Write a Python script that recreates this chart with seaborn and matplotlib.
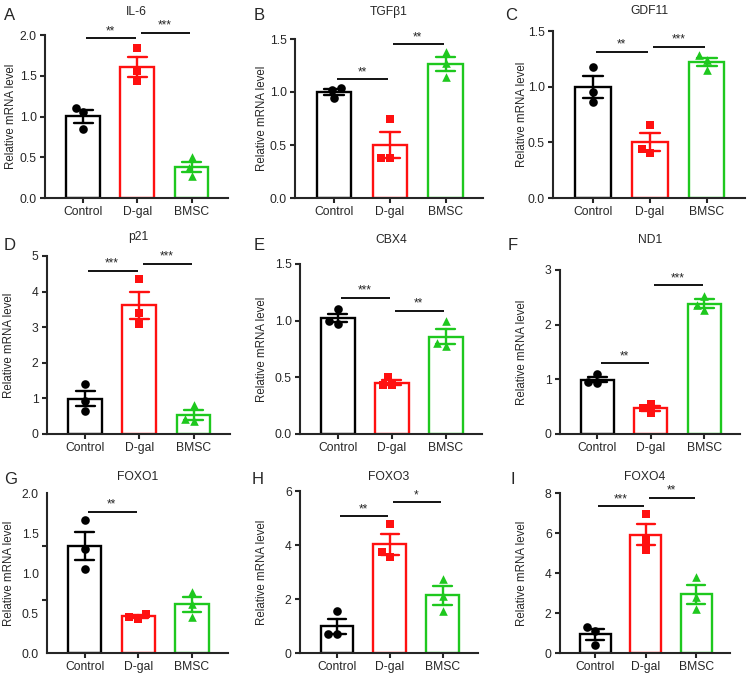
import matplotlib
matplotlib.use("Agg")
import matplotlib.pyplot as plt
import numpy as np
import pandas as pd
import seaborn as sns

# groups and colours
groups = ["Control", "D-gal", "BMSC"]
group_colors = ["#000000", "#ff1010", "#1ec81e"]
group_markers = ["o", "s", "^"]

# values (3 replicates per group)
il6 = [[1.11, 1.05, 0.85], [1.84, 1.56, 1.43], [0.50, 0.37, 0.27]]
tgfb1 = [[1.04, 1.02, 0.94], [0.75, 0.38, 0.38], [1.38, 1.27, 1.14]]
gdf11 = [[1.18, 0.95, 0.86], [0.66, 0.44, 0.40], [1.28, 1.24, 1.15]]
p21 = [[1.40, 0.92, 0.66], [4.35, 3.40, 3.10], [0.82, 0.42, 0.36]]
cbx4 = [[1.10, 1.00, 0.97], [0.50, 0.43, 0.43], [1.00, 0.80, 0.78]]
nd1 = [[1.10, 0.95, 0.94], [0.55, 0.47, 0.38], [2.53, 2.36, 2.27]]
foxo1 = [[1.66, 1.30, 1.05], [0.43, 0.49, 0.45], [0.76, 0.61, 0.45]]
foxo3 = [[1.55, 0.70, 0.72], [4.79, 3.74, 3.56], [2.75, 2.10, 1.55]]
foxo4 = [[1.30, 1.12, 0.40], [6.95, 5.66, 5.15], [3.82, 2.81, 2.18]]

genes = ["IL-6", "TGFβ1", "GDF11", "p21", "CBX4", "ND1", "FOXO1", "FOXO3", "FOXO4"]
letters = ["A", "B", "C", "D", "E", "F", "G", "H", "I"]
values = [il6, tgfb1, gdf11, p21, cbx4, nd1, foxo1, foxo3, foxo4]
ymax = [2.0, 1.5, 1.5, 5, 1.5, 3, 2.0, 6, 8]
ystep = [0.5, 0.5, 0.5, 1, 0.5, 1, 0.5, 2, 2]

# significance brackets: (group i, group j, height, label)
sig = [
    [(0, 1, 1.96, "**"), (1, 2, 2.03, "***")],
    [(0, 1, 1.12, "**"), (1, 2, 1.45, "**")],
    [(0, 1, 1.31, "**"), (1, 2, 1.36, "***")],
    [(0, 1, 4.57, "***"), (1, 2, 4.77, "***")],
    [(0, 1, 1.20, "***"), (1, 2, 1.085, "**")],
    [(0, 1, 1.29, "**"), (1, 2, 2.72, "***")],
    [(0, 1, 1.76, "**")],
    [(0, 1, 5.06, "**"), (1, 2, 5.58, "*")],
    [(0, 1, 7.33, "***"), (1, 2, 7.75, "**")],
]

# axes boxes in pixels: left, right, top, bottom ; ylabel x ; letter x,y ; title y
W, H = 752, 680
boxes = [
    (45, 228, 35, 198), (295, 483, 39, 198), (553, 745, 31, 198),
    (47, 230, 256, 434), (300, 482, 264, 434), (560, 740, 270, 434),
    (47, 228, 493, 653), (300, 478, 491, 653), (560, 730, 493, 653),
]
ylab_x = [11, 262, 522, 9, 262, 522, 9, 262, 522]
letter_xy = [(4, 15), (254, 15), (505, 15), (4, 245), (254, 245), (508, 245),
             (4, 479), (252, 479), (510, 479)]
title_y = [12, 12, 11, 237, 240, 240, 477, 477, 477]

sns.set_style("ticks")
plt.rcParams["font.family"] = ["Liberation Sans", "DejaVu Sans"]

fig = plt.figure(figsize=(W / 100, H / 100), dpi=100)

for k in range(9):
    l, r, t, b = boxes[k]
    ax = fig.add_axes([l / W, 1 - b / H, (r - l) / W, (b - t) / H])
    df = pd.DataFrame({
        "group": np.repeat(groups, 3),
        "value": np.concatenate(values[k]),
    })
    sns.barplot(data=df, x="group", y="value", hue="group", order=groups,
                hue_order=groups, palette=group_colors, fill=False,
                errorbar="se", capsize=0.35, width=0.62, linewidth=1.7,
                err_kws={"linewidth": 1.7}, legend=False, ax=ax)
    # colour error bars like their group
    for ln in ax.lines:
        xm = np.nanmean(np.asarray(ln.get_xdata(), dtype=float))
        if np.isfinite(xm):
            ln.set_color(group_colors[int(round(xm))])
    for g, c, m, vals in zip(groups, group_colors, group_markers, values[k]):
        sns.swarmplot(x=[g] * len(vals), y=vals, order=groups, color=c,
                      marker=m, size=6.2, linewidth=0, ax=ax, zorder=5)

    for i, j, y, lab in sig[k]:
        ax.plot([i + 0.06, j - 0.03], [y, y], color="black", lw=1.3,
                clip_on=False, solid_capstyle="butt")
        ax.text((i + j) / 2, y + ymax[k] * 0.008, lab, ha="center",
                va="bottom", fontsize=8.5)

    ax.set_xlim(-0.7, 2.67)
    ax.set_ylim(0, ymax[k])
    ticks = np.arange(0, ymax[k] + 1e-9, ystep[k])
    ax.set_yticks(ticks)
    if ystep[k] < 1:
        ax.set_yticklabels([f"{v:.1f}" for v in ticks])
    else:
        ax.set_yticklabels([f"{v:.0f}" for v in ticks])
    if k == 6:
        # tick marks in this panel do not line up with the labels
        ax.tick_params(axis="y", which="major", length=0, pad=6)
        ax.set_yticks(np.linspace(0, 2.0, 4), minor=True)
        ax.tick_params(axis="y", which="minor", length=3.5, width=1.5)
    else:
        ax.tick_params(axis="y", length=3.5, width=1.5, pad=2.5)
    ax.tick_params(axis="x", length=3.5, width=1.5, pad=2.5)
    ax.tick_params(axis="y", labelsize=8.7)
    ax.tick_params(axis="x", labelsize=8.7)
    for s in ["left", "bottom"]:
        ax.spines[s].set_linewidth(1.5)
    sns.despine(ax=ax)
    ax.set_xlabel("")
    ax.set_ylabel("Relative mRNA level", fontsize=8.3, va="center")
    ax.yaxis.set_label_coords((ylab_x[k] - l) / (r - l), 0.5)

    fig.text(((l + r) / 2) / W, 1 - title_y[k] / H, genes[k], ha="center",
             va="center", fontsize=8.7)
    lx, ly = letter_xy[k]
    fig.text(lx / W, 1 - ly / H, letters[k], ha="left", va="center",
             fontsize=12)

fig.savefig("out.png", dpi=100)
